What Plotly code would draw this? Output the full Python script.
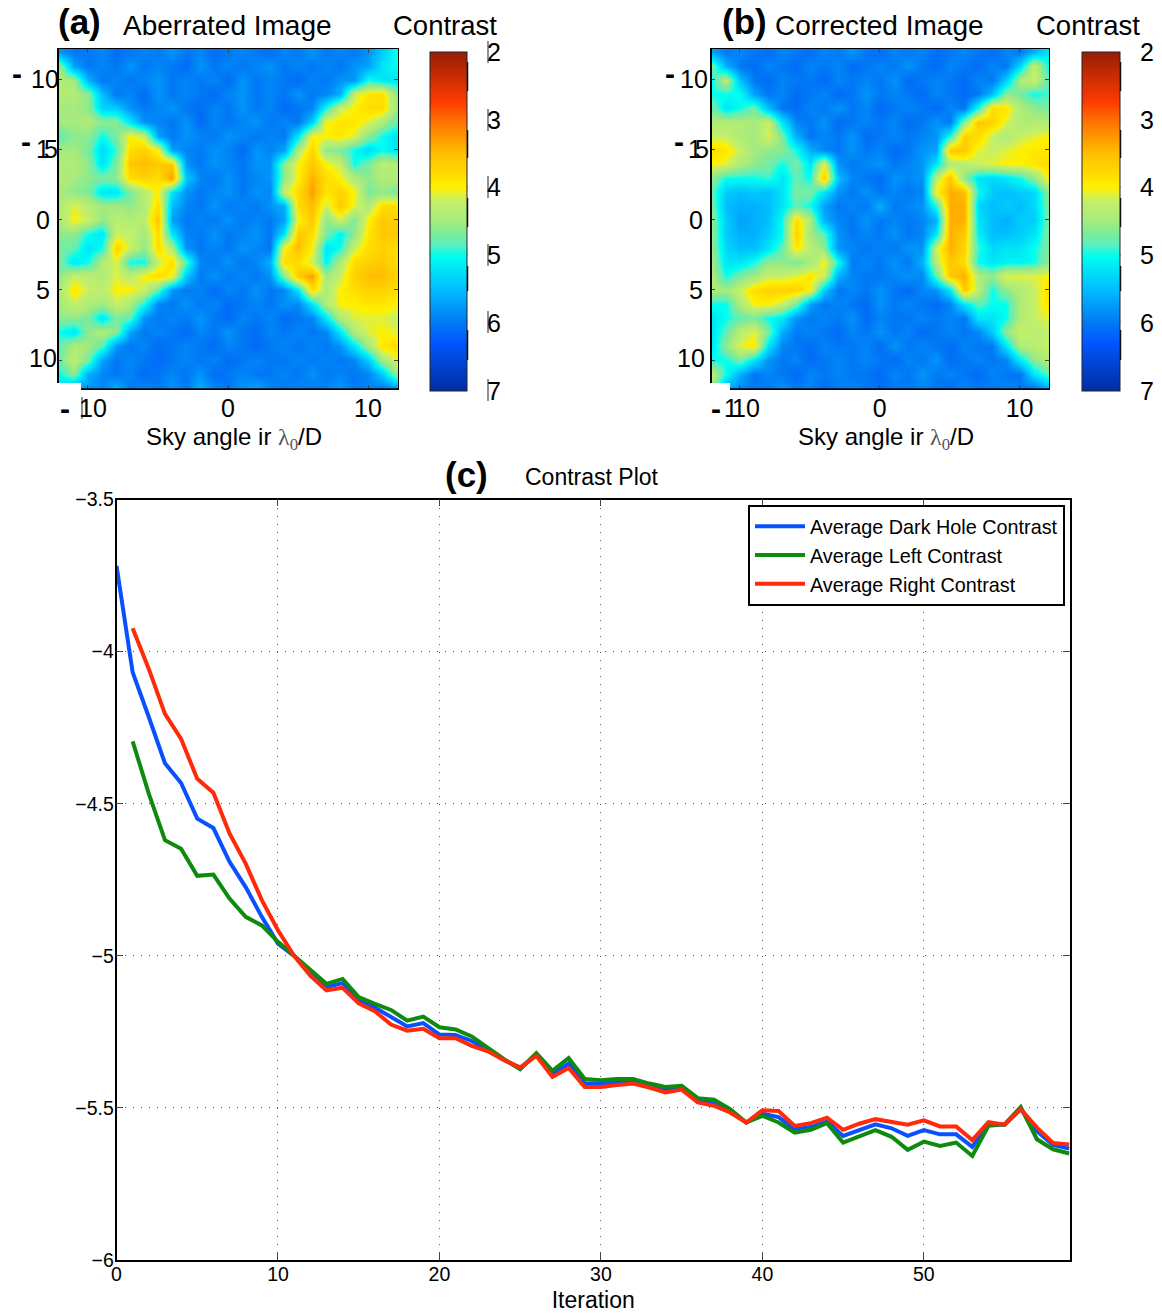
import numpy as np
import plotly.graph_objects as go

W, H = 1162, 1314
FONT = "Liberation Sans"

iterations_blue = list(range(0, 60))
iterations_side = list(range(1, 60))
dark_hole = [-3.718,-4.068,-4.215,-4.367,-4.432,-4.549,-4.58,-4.691,-4.774,-4.872,-4.96,-5.0,
 -5.055,-5.103,-5.09,-5.147,-5.17,-5.202,-5.232,-5.221,-5.259,-5.26,-5.28,-5.31,-5.342,-5.37,
 -5.325,-5.389,-5.354,-5.42,-5.42,-5.415,-5.413,-5.427,-5.441,-5.434,-5.475,-5.482,-5.509,-5.548,
 -5.519,-5.53,-5.57,-5.563,-5.545,-5.592,-5.573,-5.554,-5.567,-5.592,-5.573,-5.587,-5.587,-5.628,
 -5.554,-5.555,-5.504,-5.576,-5.622,-5.634]
left_contrast = [-4.295,-4.467,-4.62,-4.648,-4.737,-4.733,-4.812,-4.872,-4.9,-4.954,-5.0,
 -5.046,-5.092,-5.076,-5.136,-5.158,-5.178,-5.213,-5.2,-5.235,-5.242,-5.265,-5.303,-5.34,-5.373,
 -5.32,-5.378,-5.336,-5.405,-5.409,-5.405,-5.405,-5.42,-5.431,-5.427,-5.468,-5.473,-5.504,-5.548,
 -5.526,-5.548,-5.581,-5.572,-5.55,-5.614,-5.594,-5.573,-5.595,-5.638,-5.611,-5.625,-5.614,-5.658,
 -5.559,-5.554,-5.497,-5.603,-5.636,-5.65]
right_contrast = [-3.923,-4.057,-4.205,-4.287,-4.418,-4.464,-4.598,-4.697,-4.817,-4.916,-5.0,
 -5.065,-5.114,-5.105,-5.156,-5.182,-5.226,-5.246,-5.24,-5.271,-5.271,-5.296,-5.314,-5.343,-5.367,
 -5.329,-5.398,-5.369,-5.431,-5.431,-5.425,-5.42,-5.433,-5.449,-5.44,-5.482,-5.493,-5.515,-5.548,
 -5.508,-5.51,-5.559,-5.55,-5.532,-5.572,-5.552,-5.537,-5.545,-5.555,-5.541,-5.561,-5.561,-5.606,
 -5.547,-5.555,-5.504,-5.565,-5.615,-5.62]

sky_x = list(range(-12, 13))
sky_y = list(range(-12, 13))

# contrast exponent x10, row per sky angle (top to bottom)
aberrated_tenths = [
[58,60,60,59,61,60,59,60,58,60,59,61,60,59,60,61,59,60,58,60,59,60,58,54,50],
[46,57,60,59,60,58,60,59,60,61,58,60,59,60,59,58,60,59,60,59,60,58,57,52,50],
[44,45,56,60,59,60,59,58,60,59,60,59,61,58,60,59,60,61,59,60,58,58,50,52,52],
[44,44,46,55,60,59,61,58,60,59,60,61,59,58,60,59,60,58,60,59,56,42,39,38,46],
[45,45,46,53,54,58,60,59,58,60,61,59,60,58,60,59,61,60,59,50,42,40,38,38,45],
[45,45,44,46,46,52,58,59,60,58,61,59,60,59,58,60,59,60,54,40,39,39,41,44,48],
[48,46,46,50,47,40,42,57,60,58,59,60,58,59,60,59,60,52,40,40,39,41,46,50,52],
[45,45,47,53,49,38,37,40,57,59,60,58,59,61,58,59,57,44,37,46,47,50,53,50,52],
[44,44,46,52,47,36,35,36,36,58,60,58,59,60,58,58,46,40,36,40,42,50,47,43,44],
[44,45,46,47,46,38,37,38,33,54,59,60,58,60,59,58,46,40,34,38,40,44,46,44,44],
[45,46,47,52,52,47,43,40,52,58,60,59,58,60,58,59,42,38,33,39,37,40,47,46,47],
[44,41,43,45,45,46,44,38,55,59,60,58,60,59,60,58,56,38,35,42,36,41,44,38,38],
[44,40,42,46,43,44,43,36,57,60,59,60,58,60,59,60,57,40,36,46,42,47,40,36,37],
[46,46,50,52,42,42,45,38,52,59,60,58,60,59,58,60,52,36,38,47,51,46,39,36,36],
[47,48,52,50,37,42,46,38,44,58,60,59,60,58,59,60,40,35,40,52,50,42,38,37,38],
[47,52,50,44,41,50,50,42,38,48,59,60,58,60,59,56,38,38,42,51,44,38,37,36,38],
[46,42,43,44,41,43,40,38,40,54,60,58,60,59,60,58,46,36,33,45,42,37,35,35,37],
[44,39,42,43,40,40,42,48,58,60,59,61,59,60,58,60,59,52,38,44,40,38,37,37,38],
[45,42,44,45,42,44,50,59,60,58,60,59,61,60,59,60,58,59,52,44,40,40,39,39,40],
[46,46,47,52,47,48,58,60,59,60,58,60,61,59,60,59,61,60,59,52,44,41,41,41,42],
[50,52,46,44,46,57,60,59,60,61,59,60,58,60,61,59,60,59,60,59,52,44,41,40,41],
[48,44,45,48,58,60,59,61,60,59,60,61,59,60,61,60,59,60,59,60,58,52,45,39,38],
[47,43,47,57,60,59,60,61,60,59,60,59,61,60,59,60,60,59,60,59,60,59,54,45,41],
[50,46,56,59,60,59,61,60,59,60,58,61,60,59,60,60,59,60,58,60,59,60,59,54,46],
[53,57,58,59,56,60,59,60,58,60,56,59,60,58,57,59,60,59,60,59,58,60,59,60,58],
]
corrected_tenths = [
[57,60,59,60,61,59,60,61,59,60,58,60,61,59,60,59,61,60,59,60,61,59,60,56,52],
[47,56,60,61,59,60,61,59,60,59,61,60,59,60,58,60,61,59,60,61,59,60,53,42,50],
[50,43,55,60,61,59,60,60,61,59,60,59,60,58,61,60,59,60,61,59,60,54,44,42,48],
[50,50,50,57,60,59,61,60,59,61,60,58,60,59,60,61,59,60,61,60,55,46,47,50,49],
[47,52,50,47,55,60,61,59,60,58,60,59,61,60,59,60,61,59,60,50,38,39,44,46,47],
[44,44,44,45,42,52,59,60,58,61,60,59,60,59,61,60,58,60,46,36,37,41,44,44,44],
[42,42,44,45,41,47,56,60,59,60,58,61,60,59,60,59,58,50,37,38,42,44,42,41,40],
[38,39,42,45,46,46,50,56,59,60,58,60,59,61,60,58,57,36,36,41,42,41,40,39,39],
[40,41,44,46,47,50,47,52,41,58,60,59,58,60,59,58,52,44,43,42,41,40,40,39,38],
[46,50,50,50,49,52,48,50,36,55,59,60,61,58,59,58,43,36,46,52,53,52,50,46,40],
[48,54,55,54,55,52,47,47,52,58,60,58,60,59,60,59,40,34,35,50,54,55,54,53,46],
[47,55,56,56,55,52,48,50,57,60,59,60,56,60,59,58,50,34,34,53,55,54,55,53,47],
[46,54,57,56,55,50,38,44,56,59,60,58,60,59,60,59,56,34,34,52,55,56,54,54,47],
[46,54,56,56,54,50,37,45,48,58,60,59,60,58,60,59,52,34,36,51,55,55,54,52,47],
[46,53,55,55,52,48,39,43,46,58,59,60,59,60,58,58,42,34,37,49,53,52,52,50,47],
[45,52,52,50,46,46,47,45,40,50,60,59,60,58,60,56,43,36,38,50,52,51,51,50,46],
[44,50,47,45,42,42,41,39,42,56,59,60,60,59,58,59,48,36,34,44,46,41,41,41,40],
[44,45,42,38,37,37,37,40,54,60,59,60,58,60,61,59,58,52,36,43,50,46,44,42,39],
[50,50,44,40,40,42,47,57,60,59,60,61,58,60,59,60,61,59,52,48,50,50,44,42,39],
[52,50,48,47,50,52,58,60,59,60,58,61,59,60,60,59,60,59,60,52,52,50,44,42,41],
[52,48,43,41,47,56,60,59,60,61,59,60,58,60,59,61,60,59,60,59,54,46,42,43,42],
[52,46,41,39,52,59,60,61,59,60,60,59,61,58,60,59,60,61,59,60,60,52,44,43,42],
[50,50,47,52,58,60,59,61,60,59,60,59,60,61,59,60,58,61,60,59,60,59,52,46,44],
[43,50,56,60,59,60,61,59,60,59,60,60,61,59,60,58,60,59,60,61,59,60,60,52,48],
[46,56,59,60,60,58,60,59,61,60,59,60,61,60,60,59,60,61,59,60,60,59,60,60,56],
]
contrast_ticks = [2, 3, 4, 5, 6, 7]

colorscale = [
 [0.00, "rgb(0,45,165)"], [0.10, "rgb(0,75,225)"], [0.14, "rgb(0,85,255)"],
 [0.20, "rgb(0,120,245)"], [0.30, "rgb(0,190,255)"], [0.40, "rgb(0,255,240)"],
 [0.43, "rgb(90,240,190)"], [0.47, "rgb(130,235,150)"], [0.50, "rgb(165,235,125)"],
 [0.56, "rgb(195,240,105)"], [0.58, "rgb(225,240,60)"],
 [0.60, "rgb(255,240,0)"], [0.70, "rgb(255,190,0)"], [0.80, "rgb(255,110,0)"],
 [0.85, "rgb(255,60,0)"], [0.90, "rgb(220,50,0)"], [1.00, "rgb(150,30,5)"],
]

def px(x): return x / W
def py(y): return 1 - y / H

fig = go.Figure()

def heat(z_tenths, xa, ya, bar_left, bar_right, gap):
    z = -np.array(z_tenths, dtype=float) / 10
    fig.add_trace(go.Heatmap(
        x=sky_x, y=sky_y, z=z, xaxis=xa, yaxis=ya, zsmooth="best",
        colorscale=colorscale, zmin=-7, zmax=-2, showlegend=False,
        colorbar=dict(
            x=px(bar_left), xanchor="left", xpad=0, y=py(52), yanchor="top", ypad=0,
            thickness=bar_right - bar_left, thicknessmode="pixels",
            len=339, lenmode="pixels", outlinecolor="#222", outlinewidth=1,
            tickmode="array", tickvals=[-t for t in contrast_ticks],
            ticktext=[str(t) for t in contrast_ticks],
            ticks="outside", ticklen=gap, tickcolor="rgba(0,0,0,0)",
            tickfont=dict(family=FONT, size=25, color="black"),
        ),
    ))

heat(aberrated_tenths, "x", "y", 430, 467, 15)
heat(corrected_tenths, "x2", "y2", 1082, 1120, 15)

for name, xs, ys, col in [
    ("Average Dark Hole Contrast", iterations_blue, dark_hole, "#0a50ff"),
    ("Average Left Contrast", iterations_side, left_contrast, "#0e8a0e"),
    ("Average Right Contrast", iterations_side, right_contrast, "#ff2a0a"),
]:
    fig.add_trace(go.Scatter(x=xs, y=ys, mode="lines", name=name, xaxis="x3", yaxis="y3",
                             line=dict(color=col, width=4)))

def img_axes(left, right, xr, yr):
    xa = dict(domain=[px(left), px(right)], range=xr, tickmode="array", tickvals=[-10, 0, 10],
              ticktext=["", "0", "10"], ticks="inside", ticklen=4, mirror="ticks",
              showline=True, linecolor="black", linewidth=1, showgrid=False, zeroline=False,
              ticklabelstandoff=-3,
              tickfont=dict(family=FONT, size=25, color="black"))
    ya = dict(domain=[py(389), py(49)], range=yr, tickmode="array", tickvals=[-10, -5, 0, 5, 10],
              ticktext=["", "", "0", "5", ""], ticks="inside", ticklen=4, mirror="ticks",
              showline=True, linecolor="black", linewidth=1, showgrid=False, zeroline=False,
              ticklabelstandoff=2,
              tickfont=dict(family=FONT, size=25, color="black"))
    return xa, ya

xa1, ya1 = img_axes(58, 398, [-12.14, 12.14], [12.07, -12.2])
xa2, ya2 = img_axes(711, 1049, [-12.04, 12.1], [12.07, -12.2])
ya2["anchor"] = "x2"; xa2["anchor"] = "y2"
ya1["anchor"] = "x"; xa1["anchor"] = "y"

layout = dict(
    width=W, height=H, autosize=False, margin=dict(l=0, r=0, t=0, b=0, autoexpand=False),
    paper_bgcolor="white", plot_bgcolor="white",
    font=dict(family=FONT, color="black"),
    xaxis=xa1, yaxis=ya1, xaxis2=xa2, yaxis2=ya2,
    xaxis3=dict(domain=[px(116.5), px(1070)], range=[0, 59.05], anchor="y3", tickmode="array",
                tickvals=[0, 10, 20, 30, 40, 50], ticks="inside", ticklen=7, mirror="ticks",
                showline=True, linecolor="black", linewidth=1.5, zeroline=False,
                showgrid=True, griddash="1px,7px", gridcolor="#555", gridwidth=1,
                ticklabelstandoff=-4,
                tickfont=dict(family=FONT, size=19.5, color="black"),
                title=dict(text="Iteration", font=dict(family=FONT, size=23, color="black"), standoff=8)),
    yaxis3=dict(domain=[py(1260), py(499.5)], range=[-6, -3.5], anchor="x3", tickmode="array",
                tickvals=[-6, -5.5, -5, -4.5, -4, -3.5], ticktext=["−6", "−5.5", "−5", "−4.5", "−4", "−3.5"],
                ticks="inside", ticklen=7, mirror="ticks", ticklabelstandoff=-3,
                showline=True, linecolor="black", linewidth=1.5, zeroline=False,
                showgrid=True, griddash="1px,7px", gridcolor="#555", gridwidth=1,
                tickfont=dict(family=FONT, size=19.5, color="black")),
    legend=dict(x=px(748), xanchor="left", y=py(505), yanchor="top", bgcolor="white",
                bordercolor="black", borderwidth=2, font=dict(family=FONT, size=19.8, color="black"),
                itemwidth=50),
)

anns = []
def note(text, x, y, size, anchor="center", bold=False):
    if bold:
        text = "<b>" + text + "</b>"
    anns.append(dict(text=text, x=px(x), y=py(y), xref="paper", yref="paper", showarrow=False,
                     xanchor=anchor, yanchor="middle", borderpad=0, borderwidth=0,
                     font=dict(family=FONT, size=size, color="black")))

LAM = '<span style="font-family:Liberation Serif;color:#555">λ<sub>0</sub></span>'
note("(a)", 79, 22, 35, bold=True)
note("Aberrated Image", 123, 25, 28, "left")
note("Contrast", 393, 25, 27.5, "left")
note("(b)", 744, 22, 35, bold=True)
note("Corrected Image", 775, 25, 28, "left")
note("Contrast", 1036, 25, 27.5, "left")
note("(c)", 466, 474, 35, bold=True)
note("Contrast Plot", 592, 477, 23)
note("Sky angle ir " + LAM + "/D", 234, 439, 24)
note("Sky angle ir " + LAM + "/D", 886, 439, 24)
# panel a: broken negative tick labels
note("-", 17, 73, 30, bold=True); note("10", 59, 79, 25, "right")
note("-", 26, 141, 30, bold=True); note("1", 50, 149, 25, "right"); note("5", 58, 149, 25, "right")
note("10", 57, 358, 25, "right")
note("-", 65, 408, 30, bold=True); note("10", 107, 408, 25, "right")
# panel b
note("-", 670, 73, 30, bold=True); note("10", 708, 79, 25, "right")
note("-", 679, 141, 30, bold=True); note("1", 702, 149, 25, "right"); note("5", 709, 149, 25, "right")
note("10", 705, 358, 25, "right")
note("-", 716, 408, 30, bold=True); note("1", 738, 408, 25, "right"); note("10", 760, 408, 25, "right")
layout["annotations"] = anns

shapes = []
def seg(x0, y0, x1, y1, color="black", width=1.5):
    shapes.append(dict(type="line", xref="paper", yref="paper", x0=px(x0), y0=py(y0), x1=px(x1), y1=py(y1),
                       line=dict(color=color, width=width), layer="above"))
def block(x0, y0, x1, y1):
    shapes.append(dict(type="rect", xref="paper", yref="paper", x0=px(x0), y0=py(y0), x1=px(x1), y1=py(y1),
                       fillcolor="white", line=dict(width=0), layer="above"))
block(55, 383, 81, 392)
block(705, 383, 730, 392)
seg(58, 49, 58, 383, width=2)
seg(711, 49, 711, 383, width=2)
seg(81, 389, 398, 389, width=1.5)
seg(730, 389, 1049, 389, width=1.5)
for bar_right in (467.5, 1120.5):
    for top, bottom in [(62, 91), (130, 158), (198, 227), (266, 291), (330, 360)]:
        seg(bar_right, top, bar_right, bottom, width=1.5)
    for y in (120, 187, 255, 322):
        seg(bar_right - 38, y, bar_right - 34, y, color="#203040", width=1)
        seg(bar_right - 4, y, bar_right, y, color="#203040", width=1)
seg(431, 206, 467, 206, color="white", width=1)
for y in (52, 120, 187, 255, 322, 390):
    seg(488, y - 11, 488, y + 11, color="#222", width=1)
seg(82, 397, 82, 419, color="#222", width=1)
layout["shapes"] = shapes

fig.update_layout(**layout)
fig.write_html("out.html", config=dict(displayModeBar=False),
               post_script="document.body.style.margin='0';document.body.style.overflow='hidden';")
